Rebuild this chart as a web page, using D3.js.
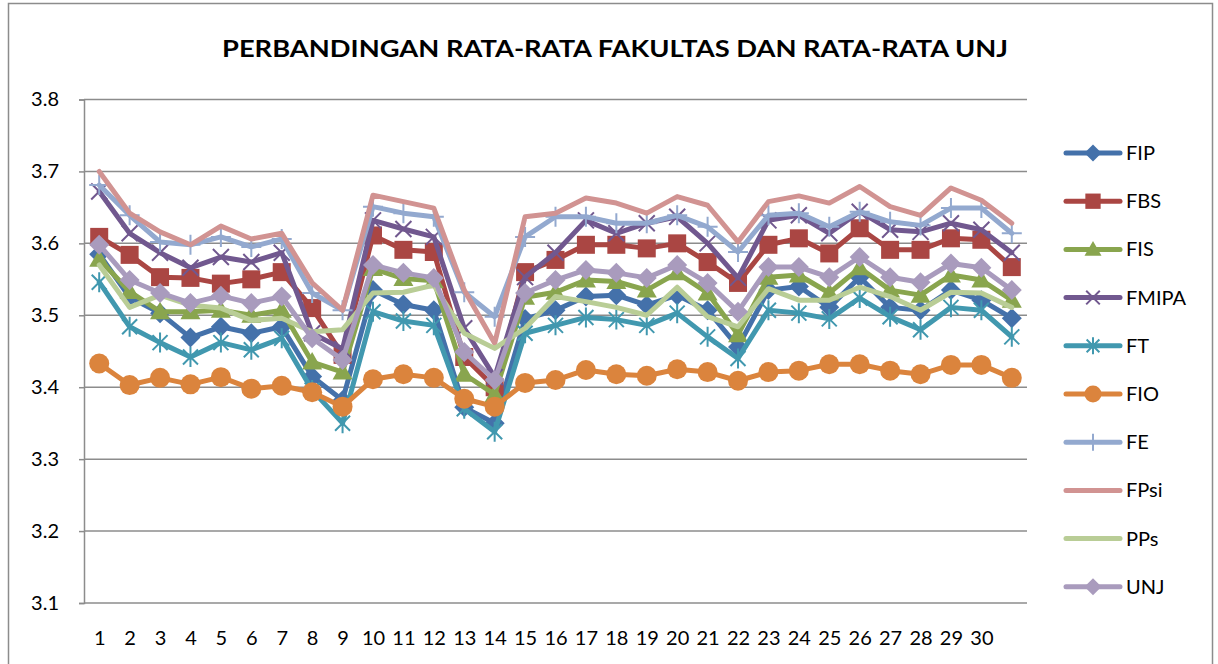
<!DOCTYPE html>
<html><head><meta charset="utf-8">
<script src="https://cdn.jsdelivr.net/npm/d3@7"></script>
<style>body{margin:0;background:#fff}svg{display:block}</style>
</head><body>
<script>
const categories = [1,2,3,4,5,6,7,8,9,10,11,12,13,14,15,16,17,18,19,20,21,22,23,24,25,26,27,28,29,30,31];
const xTickLabels = ["1","2","3","4","5","6","7","8","9","10","11","12","13","14","15","16","17","18","19","20","21","22","23","24","25","26","27","28","29","30",""];
const yTicks = [3.1,3.2,3.3,3.4,3.5,3.6,3.7,3.8];
const seriesNames = ["FIP","FBS","FIS","FMIPA","FT","FIO","FE","FPsi","PPs","UNJ"];

const FIP   = [3.585,3.525,3.503,3.469,3.484,3.475,3.484,3.415,3.382,3.535,3.515,3.507,3.372,3.350,3.495,3.507,3.526,3.528,3.514,3.528,3.507,3.456,3.535,3.540,3.511,3.553,3.511,3.507,3.535,3.521,3.496];
const FBS   = [3.609,3.584,3.553,3.552,3.544,3.550,3.560,3.510,3.445,3.611,3.591,3.588,3.442,3.400,3.560,3.577,3.598,3.598,3.593,3.600,3.574,3.545,3.598,3.607,3.586,3.621,3.591,3.591,3.607,3.605,3.567];
const FIS   = [3.578,3.533,3.505,3.505,3.507,3.500,3.507,3.435,3.421,3.565,3.551,3.548,3.418,3.390,3.525,3.532,3.549,3.547,3.535,3.559,3.531,3.473,3.553,3.556,3.531,3.566,3.535,3.528,3.556,3.549,3.521];
const FMIPA = [3.672,3.614,3.587,3.566,3.581,3.574,3.587,3.475,3.453,3.632,3.620,3.609,3.482,3.414,3.553,3.587,3.632,3.614,3.628,3.637,3.600,3.552,3.632,3.639,3.614,3.644,3.619,3.616,3.628,3.619,3.587];
const FT    = [3.546,3.484,3.462,3.442,3.462,3.452,3.468,3.396,3.350,3.505,3.492,3.486,3.370,3.338,3.475,3.486,3.497,3.494,3.486,3.503,3.470,3.440,3.507,3.503,3.495,3.524,3.498,3.480,3.511,3.507,3.470];
const FIO   = [3.433,3.403,3.413,3.404,3.414,3.398,3.402,3.393,3.373,3.411,3.418,3.413,3.384,3.373,3.406,3.410,3.424,3.418,3.416,3.425,3.421,3.409,3.421,3.423,3.432,3.432,3.423,3.418,3.431,3.431,3.413];
const FE    = [3.681,3.639,3.602,3.598,3.609,3.595,3.606,3.531,3.507,3.651,3.642,3.637,3.532,3.498,3.609,3.637,3.637,3.628,3.628,3.639,3.623,3.588,3.639,3.642,3.623,3.644,3.630,3.625,3.649,3.649,3.614];
const FPsi  = [3.700,3.642,3.616,3.598,3.624,3.606,3.614,3.545,3.507,3.667,3.658,3.649,3.535,3.461,3.637,3.642,3.663,3.656,3.642,3.665,3.653,3.602,3.658,3.666,3.656,3.679,3.651,3.639,3.677,3.660,3.628];
const PPs   = [3.570,3.511,3.528,3.514,3.510,3.493,3.496,3.477,3.480,3.531,3.532,3.542,3.475,3.454,3.482,3.526,3.519,3.511,3.500,3.539,3.498,3.484,3.537,3.521,3.521,3.539,3.526,3.507,3.532,3.531,3.511];
const UNJ   = [3.598,3.549,3.531,3.517,3.527,3.517,3.526,3.468,3.438,3.570,3.559,3.552,3.449,3.410,3.531,3.549,3.563,3.559,3.552,3.570,3.545,3.505,3.567,3.567,3.553,3.581,3.553,3.546,3.572,3.566,3.535];

const seriesValues = [FIP,FBS,FIS,FMIPA,FT,FIO,FE,FPsi,PPs,UNJ];
const colors = ["#4471AA","#AA4643","#89A54E","#71588F","#4198AF","#DB843D","#93A9CF","#D19392","#B9CD96","#A99BBD"];
const markers = ["diamond","square","triangle","x","asterisk","circle","plus","none","none","diamond"];

const W = 1218, H = 664;
const svg = d3.select("body").append("svg").attr("width", W).attr("height", H);
const font = "Lato, 'Open Sans', sans-serif";

// outer chart border
svg.append("rect").attr("x", 8.5).attr("y", 3.5).attr("width", 1204).attr("height", 700)
  .attr("fill", "none").attr("stroke", "#8c8c8c").attr("stroke-width", 1.5);

const x = d3.scalePoint().domain(categories).range([84, 1027]).padding(0.5);
const y = d3.scaleLinear().domain([3.1, 3.8]).range([603, 99.5]);

// gridlines
svg.append("g").selectAll("line").data(yTicks.filter(d => d > 3.1)).join("line")
  .attr("x1", 84).attr("x2", 1027).attr("y1", d => y(d)).attr("y2", d => y(d))
  .attr("stroke", "#8c8c8c").attr("stroke-width", 1.5);

// y axis
const yAxis = svg.append("g").attr("transform", "translate(84,0)")
  .call(d3.axisLeft(y).tickValues(yTicks).tickFormat(d3.format(".1f")).tickSize(5).tickPadding(20));
yAxis.select(".domain").attr("stroke", "#8c8c8c").attr("stroke-width", 1.5);
yAxis.selectAll(".tick line").attr("stroke", "#8c8c8c").attr("stroke-width", 1.5);
yAxis.selectAll("text").attr("font-family", font).attr("font-size", 20).attr("fill", "#000");

// x axis
const xAxis = svg.append("g").attr("transform", "translate(0,603)")
  .call(d3.axisBottom(x).tickFormat((d, i) => xTickLabels[i]).tickSize(0).tickPadding(28));
xAxis.select(".domain").attr("d", "M84,0H1027").attr("stroke", "#8c8c8c").attr("stroke-width", 1.5);
xAxis.selectAll("text").attr("font-family", font).attr("font-size", 20).attr("fill", "#000");

// title
svg.append("text").attr("x", 615).attr("y", 57).attr("text-anchor", "middle")
  .attr("font-family", font).attr("font-weight", "bold").attr("font-size", 23.5)
  .attr("textLength", 786).attr("lengthAdjust", "spacingAndGlyphs")
  .text("PERBANDINGAN RATA-RATA FAKULTAS DAN RATA-RATA UNJ");

function drawMarker(g, type, color, s) {
  const r = s / 2;
  if (type === "diamond") {
    g.append("path").attr("d", `M0,${-r}L${r},0L0,${r}L${-r},0Z`).attr("fill", color);
  } else if (type === "square") {
    g.append("rect").attr("x", -r * 0.9).attr("y", -r * 0.9).attr("width", s * 0.9).attr("height", s * 0.9).attr("fill", color);
  } else if (type === "triangle") {
    g.append("path").attr("d", `M0,${-r}L${r},${r * 0.75}L${-r},${r * 0.75}Z`).attr("fill", color);
  } else if (type === "circle") {
    g.append("circle").attr("r", r).attr("fill", color);
  } else if (type === "x") {
    const a = r * 0.8;
    g.append("path").attr("d", `M${-a},${-a}L${a},${a}M${-a},${a}L${a},${-a}`).attr("stroke", color).attr("stroke-width", 2).attr("fill", "none");
  } else if (type === "asterisk") {
    const a = r * 0.75;
    g.append("path").attr("d", `M${-a},${-a}L${a},${a}M${-a},${a}L${a},${-a}M0,${-r}L0,${r}`).attr("stroke", color).attr("stroke-width", 2).attr("fill", "none");
  } else if (type === "plus") {
    g.append("path").attr("d", `M0,${-r}L0,${r}M${-r},0L${r},0`).attr("stroke", color).attr("stroke-width", 2).attr("fill", "none");
  }
}

const line = d3.line().x((d, i) => x(categories[i])).y(d => y(d));
const plot = svg.append("g");
seriesValues.forEach((vals, si) => {
  const g = plot.append("g");
  g.append("path").attr("d", line(vals)).attr("fill", "none").attr("stroke", colors[si])
    .attr("stroke-width", 5).attr("stroke-linejoin", "round").attr("stroke-linecap", "round");
  vals.forEach((v, i) => {
    const mg = g.append("g").attr("transform", `translate(${x(categories[i])},${y(v)})`);
    drawMarker(mg, markers[si], colors[si], 20);
  });
});

// legend
const legend = svg.append("g");
seriesNames.forEach((name, i) => {
  const ly = 153 + i * 48.2;
  const g = legend.append("g").attr("transform", `translate(0,${ly})`);
  g.append("line").attr("x1", 1066).attr("x2", 1120).attr("y1", 0).attr("y2", 0)
    .attr("stroke", colors[i]).attr("stroke-width", 5).attr("stroke-linecap", "round");
  const mg = g.append("g").attr("transform", "translate(1093,0)");
  drawMarker(mg, markers[i], colors[i], 17);
  g.append("text").attr("x", 1126).attr("y", 0).attr("dy", "0.35em")
    .attr("font-family", font).attr("font-size", 20).attr("fill", "#000").text(name);
});
</script>
</body></html>
